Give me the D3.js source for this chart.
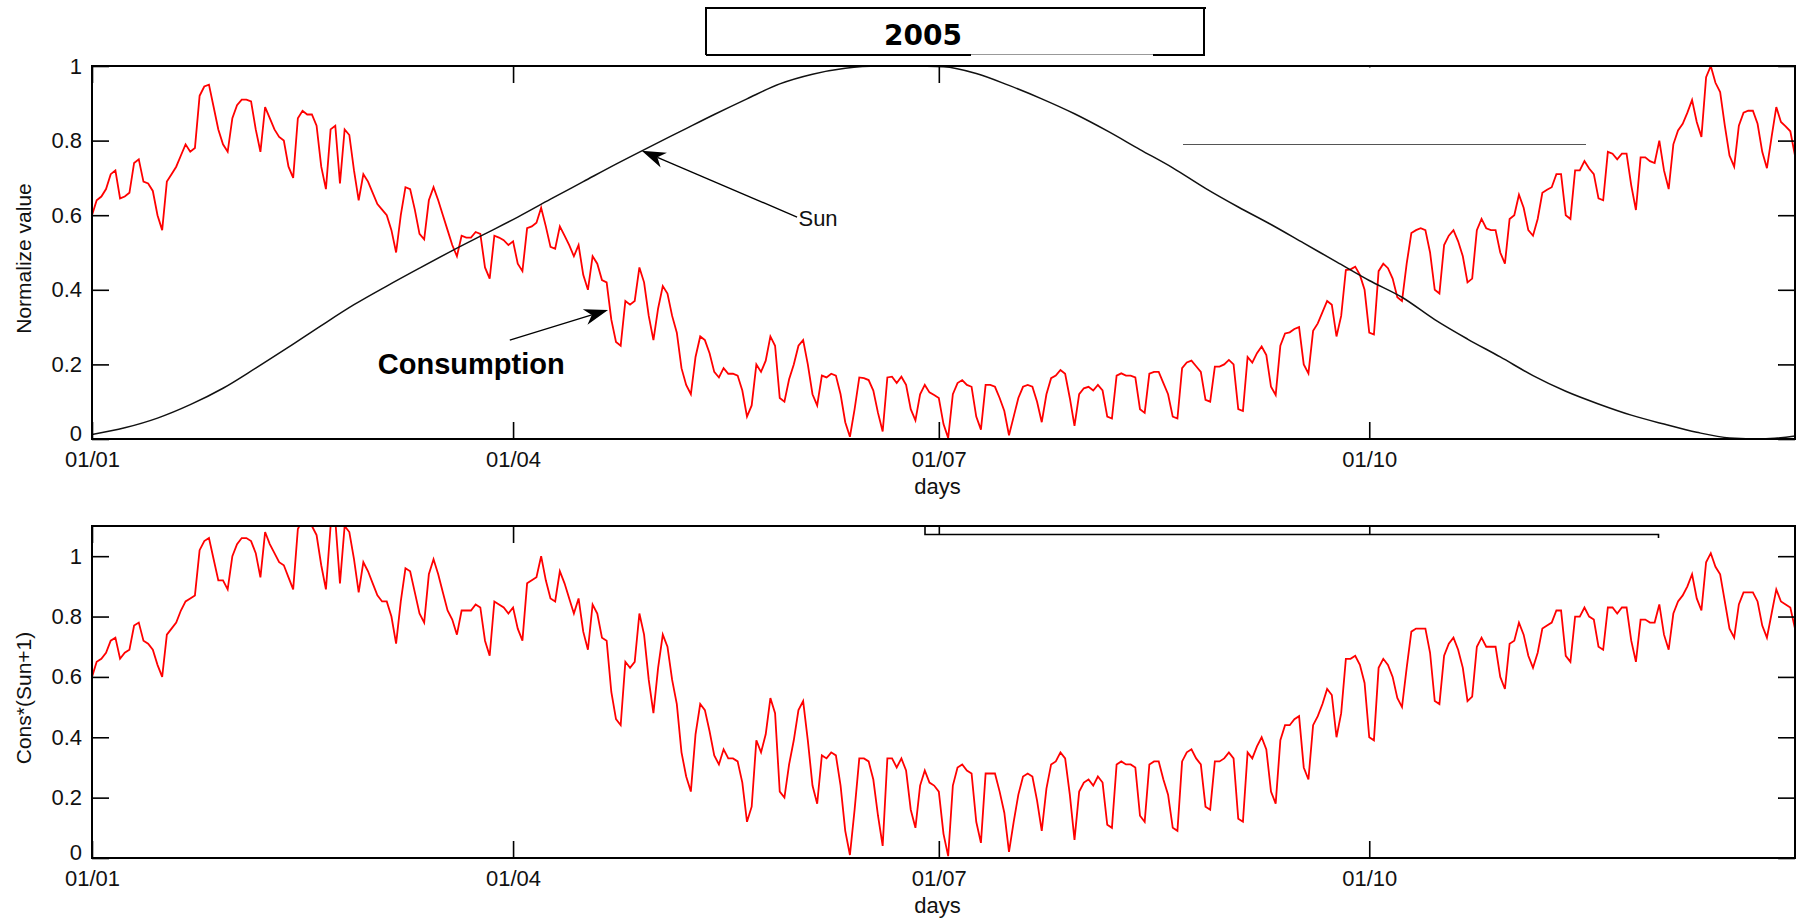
<!DOCTYPE html>
<html><head><meta charset="utf-8">
<script src="https://cdn.jsdelivr.net/npm/d3@7"></script>
<style>
html,body{margin:0;padding:0;background:#fff;}
svg{display:block;}
</style></head><body>
<svg id="chart" width="1806" height="920"></svg>
<script>
// ---------------- data ----------------
const titleText = "2005";
const xTickDays = [0, 90, 181, 273];
const xTickLabels = ["01/01", "01/04", "01/07", "01/10"];
const yTicksTop = [0, 0.2, 0.4, 0.6, 0.8, 1];
const yTickLabelsTop = ["0", "0.2", "0.4", "0.6", "0.8", "1"];
const yTicksBottom = [0, 0.2, 0.4, 0.6, 0.8, 1];
const yTickLabelsBottom = ["0", "0.2", "0.4", "0.6", "0.8", "1"];

// daily normalized consumption, 01/01 .. 31/12 (one row per week)
const consumption = [
  0.60, 0.64, 0.65, 0.67, 0.71, 0.72, 0.645,
  0.65, 0.66, 0.74, 0.75, 0.69, 0.685, 0.665,
  0.60, 0.56, 0.69, 0.71, 0.73, 0.76, 0.79,
  0.77, 0.78, 0.92, 0.945, 0.95, 0.89, 0.83,
  0.79, 0.77, 0.86, 0.895, 0.91, 0.91, 0.905,
  0.83, 0.77, 0.89, 0.86, 0.83, 0.81, 0.80,
  0.73, 0.70, 0.86, 0.88, 0.87, 0.87, 0.84,
  0.73, 0.67, 0.83, 0.84, 0.685, 0.83, 0.815,
  0.72, 0.64, 0.71, 0.69, 0.66, 0.63, 0.615,
  0.60, 0.56, 0.50, 0.60, 0.675, 0.67, 0.615,
  0.55, 0.535, 0.64, 0.675, 0.64, 0.60, 0.56,
  0.52, 0.49, 0.545, 0.54, 0.54, 0.555, 0.55,
  0.46, 0.43, 0.545, 0.54, 0.533, 0.52, 0.53,
  0.47, 0.45, 0.565, 0.57, 0.58, 0.62, 0.57,
  0.515, 0.51, 0.57, 0.545, 0.52, 0.49, 0.52,
  0.44, 0.40, 0.49, 0.47, 0.426, 0.42, 0.32,
  0.26, 0.25, 0.37, 0.36, 0.37, 0.46, 0.42,
  0.33, 0.265, 0.35, 0.41, 0.39, 0.33, 0.285,
  0.19, 0.145, 0.12, 0.22, 0.275, 0.265, 0.23,
  0.18, 0.165, 0.19, 0.175, 0.175, 0.17, 0.13,
  0.06, 0.09, 0.20, 0.18, 0.21, 0.275, 0.25,
  0.11, 0.10, 0.16, 0.20, 0.25, 0.265, 0.20,
  0.12, 0.09, 0.17, 0.165, 0.175, 0.17, 0.12,
  0.045, 0.006, 0.08, 0.165, 0.163, 0.158, 0.13,
  0.07, 0.02, 0.165, 0.167, 0.15, 0.167, 0.145,
  0.08, 0.05, 0.12, 0.145, 0.125, 0.118, 0.11,
  0.04, 0.003, 0.12, 0.15, 0.158, 0.145, 0.14,
  0.06, 0.025, 0.145, 0.145, 0.14, 0.11, 0.075,
  0.01, 0.06, 0.11, 0.14, 0.145, 0.14, 0.10,
  0.045, 0.12, 0.163, 0.17, 0.185, 0.175, 0.11,
  0.035, 0.12, 0.136, 0.14, 0.13, 0.145, 0.13,
  0.06, 0.055, 0.17, 0.176, 0.17, 0.17, 0.165,
  0.08, 0.07, 0.175, 0.18, 0.18, 0.15, 0.12,
  0.06, 0.055, 0.19, 0.205, 0.21, 0.195, 0.18,
  0.105, 0.10, 0.194, 0.194, 0.20, 0.212, 0.20,
  0.08, 0.075, 0.22, 0.205, 0.23, 0.248, 0.225,
  0.14, 0.118, 0.25, 0.283, 0.286, 0.295, 0.30,
  0.20, 0.176, 0.29, 0.31, 0.34, 0.37, 0.36,
  0.275, 0.33, 0.453, 0.455, 0.462, 0.44, 0.40,
  0.285, 0.28, 0.45, 0.47, 0.458, 0.43, 0.38,
  0.37, 0.47, 0.552, 0.56, 0.565, 0.56, 0.50,
  0.40, 0.39, 0.52, 0.545, 0.56, 0.53, 0.49,
  0.42, 0.43, 0.56, 0.59, 0.565, 0.56, 0.56,
  0.50, 0.47, 0.59, 0.60, 0.655, 0.62, 0.56,
  0.545, 0.59, 0.66, 0.668, 0.675, 0.71, 0.71,
  0.60, 0.59, 0.72, 0.72, 0.745, 0.725, 0.71,
  0.645, 0.64, 0.77, 0.765, 0.75, 0.765, 0.765,
  0.68, 0.614, 0.755, 0.755, 0.745, 0.74, 0.80,
  0.72, 0.67, 0.79, 0.827, 0.845, 0.875, 0.909,
  0.85, 0.81, 0.97, 1.0, 0.955, 0.93, 0.84,
  0.76, 0.73, 0.84, 0.875, 0.88, 0.88, 0.845,
  0.77, 0.726, 0.81, 0.89, 0.85, 0.838, 0.825,
  0.76
];

// normalized sun curve, read every 7 days
const sunDays = [0,7,14,21,28,35,42,49,56,63,70,77,84,91,98,105,112,119,126,133,140,147,154,161,168,175,182,189,196,203,210,217,224,231,238,245,252,259,266,273,280,287,294,301,308,315,322,329,336,343,350,357,364];
const sunValues = [0.012,0.03,0.056,0.092,0.136,0.19,0.246,0.304,0.36,0.41,0.458,0.505,0.55,0.595,0.643,0.69,0.737,0.782,0.826,0.87,0.912,0.952,0.978,0.994,1.0,1.0,0.998,0.98,0.948,0.912,0.872,0.826,0.776,0.727,0.672,0.622,0.575,0.525,0.475,0.425,0.38,0.32,0.268,0.22,0.17,0.128,0.094,0.064,0.04,0.018,0.003,0.0,0.008];

// daily Cons*(Sun+1), lower panel (one row per week)
const consSun = [
  0.60, 0.65, 0.66, 0.68, 0.72, 0.73, 0.66,
  0.68, 0.69, 0.77, 0.78, 0.72, 0.71, 0.69,
  0.64, 0.60, 0.74, 0.76, 0.78, 0.82, 0.85,
  0.86, 0.87, 1.02, 1.05, 1.06, 0.99, 0.92,
  0.92, 0.89, 1.00, 1.04, 1.06, 1.06, 1.05,
  1.01, 0.93, 1.08, 1.04, 1.01, 0.98, 0.97,
  0.93, 0.89, 1.09, 1.12, 1.10, 1.10, 1.07,
  0.97, 0.89, 1.10, 1.12, 0.91, 1.10, 1.08,
  0.99, 0.88, 0.98, 0.95, 0.91, 0.87, 0.85,
  0.85, 0.80, 0.71, 0.85, 0.96, 0.95, 0.88,
  0.81, 0.78, 0.94, 0.99, 0.94, 0.88, 0.82,
  0.79, 0.74, 0.82, 0.82, 0.82, 0.84, 0.83,
  0.72, 0.67, 0.85, 0.84, 0.83, 0.81, 0.83,
  0.76, 0.72, 0.91, 0.92, 0.93, 1.00, 0.92,
  0.86, 0.85, 0.95, 0.91, 0.86, 0.81, 0.86,
  0.75, 0.69, 0.84, 0.81, 0.73, 0.72, 0.55,
  0.46, 0.44, 0.65, 0.63, 0.65, 0.81, 0.74,
  0.59, 0.48, 0.63, 0.74, 0.70, 0.59, 0.51,
  0.35, 0.27, 0.22, 0.41, 0.51, 0.49, 0.42,
  0.34, 0.31, 0.36, 0.33, 0.33, 0.32, 0.25,
  0.12, 0.17, 0.39, 0.35, 0.41, 0.53, 0.48,
  0.22, 0.20, 0.31, 0.39, 0.49, 0.52, 0.39,
  0.24, 0.18, 0.34, 0.33, 0.35, 0.34, 0.24,
  0.09, 0.01, 0.16, 0.33, 0.33, 0.32, 0.26,
  0.14, 0.04, 0.33, 0.33, 0.30, 0.33, 0.29,
  0.16, 0.10, 0.24, 0.29, 0.25, 0.24, 0.22,
  0.08, 0.006, 0.24, 0.30, 0.31, 0.29, 0.28,
  0.12, 0.05, 0.28, 0.28, 0.28, 0.22, 0.15,
  0.02, 0.12, 0.21, 0.27, 0.28, 0.27, 0.19,
  0.09, 0.23, 0.31, 0.32, 0.35, 0.33, 0.21,
  0.06, 0.22, 0.25, 0.26, 0.24, 0.27, 0.25,
  0.11, 0.10, 0.31, 0.32, 0.31, 0.31, 0.30,
  0.14, 0.12, 0.31, 0.32, 0.32, 0.26, 0.21,
  0.10, 0.09, 0.32, 0.35, 0.36, 0.33, 0.31,
  0.17, 0.16, 0.32, 0.32, 0.33, 0.35, 0.33,
  0.13, 0.12, 0.35, 0.33, 0.37, 0.40, 0.36,
  0.22, 0.18, 0.39, 0.44, 0.44, 0.46, 0.47,
  0.30, 0.26, 0.44, 0.47, 0.51, 0.56, 0.54,
  0.40, 0.48, 0.66, 0.66, 0.67, 0.64, 0.58,
  0.40, 0.39, 0.63, 0.66, 0.64, 0.60, 0.53,
  0.50, 0.63, 0.75, 0.76, 0.76, 0.76, 0.68,
  0.52, 0.51, 0.67, 0.71, 0.73, 0.69, 0.63,
  0.52, 0.535, 0.70, 0.73, 0.70, 0.70, 0.70,
  0.60, 0.56, 0.71, 0.72, 0.78, 0.74, 0.67,
  0.63, 0.68, 0.76, 0.77, 0.78, 0.82, 0.82,
  0.67, 0.65, 0.80, 0.80, 0.83, 0.80, 0.79,
  0.70, 0.69, 0.83, 0.83, 0.81, 0.83, 0.83,
  0.72, 0.65, 0.79, 0.79, 0.78, 0.78, 0.84,
  0.74, 0.69, 0.81, 0.85, 0.87, 0.90, 0.94,
  0.86, 0.82, 0.98, 1.01, 0.965, 0.94, 0.85,
  0.76, 0.73, 0.84, 0.88, 0.88, 0.88, 0.85,
  0.77, 0.73, 0.81, 0.89, 0.85, 0.84, 0.83,
  0.76
];

// annotations (data coordinates: day, value)
const sunLabel = {text: "Sun", day: 151.0, v: 0.571};
const sunArrow = {tail: [150.7, 0.595], tip: [117.5, 0.773]};
const consLabel = {text: "Consumption", day: 61.1, v: 0.174};
const consArrow = {tail: [89.3, 0.265], tip: [110.3, 0.346]};

// ---------------- drawing ----------------
const FONT = '"Liberation Sans", Arial, Helvetica, sans-serif';
const svg = d3.select("#chart");
const X0 = 92, X1 = 1795;
const x = d3.scaleLinear().domain([0, 364]).range([X0, X1]);

const P1 = {top: 66, bottom: 439};
const P2 = {top: 526, bottom: 858};
const yTop = d3.scaleLinear().domain([0, 1]).range([P1.bottom, P1.top]);
const yBot = d3.scaleLinear().domain([0, 1.1]).range([P2.bottom, P2.top]);

const defs = svg.append("defs");
function clip(id, P) {
  defs.append("clipPath").attr("id", id).append("rect")
    .attr("x", X0).attr("y", P.top - 1).attr("width", X1 - X0).attr("height", P.bottom - P.top + 2);
}
clip("c1", P1); clip("c2", P2);

function styleAxis(s) {
  s.select(".domain").remove();
  s.attr("font-size", 22).attr("font-family", FONT);
  s.selectAll(".tick line").attr("stroke", "#000").attr("stroke-width", 1.6);
  s.selectAll(".tick text").attr("fill", "#111");
}

function drawAxes(P, y, yTicks, yLabels, topTickLen) {
  const g = svg.append("g");
  g.append("g").attr("transform", `translate(0,${P.bottom})`)
    .call(d3.axisBottom(x).tickValues(xTickDays).tickFormat((d, i) => xTickLabels[i]).tickSize(-17).tickPadding(12))
    .call(styleAxis);
  g.append("g").attr("transform", `translate(0,${P.top})`)
    .call(d3.axisTop(x).tickValues(xTickDays).tickFormat(() => "").tickSize(-17))
    .call(styleAxis)
    .selectAll(".tick line").attr("y2", d => topTickLen(d));
  g.append("g").attr("transform", `translate(${X0},0)`)
    .call(d3.axisLeft(y).tickValues(yTicks).tickFormat((d, i) => yLabels[i]).tickSize(-17).tickPadding(10))
    .call(styleAxis)
    .selectAll(".tick text").filter(d => d === 0).attr("dy", "0.08em");
  g.append("g").attr("transform", `translate(${X1},0)`)
    .call(d3.axisRight(y).tickValues(yTicks).tickFormat(() => "").tickSize(-17))
    .call(styleAxis);
  svg.append("rect").attr("x", X0).attr("y", P.top).attr("width", X1 - X0).attr("height", P.bottom - P.top)
    .attr("fill", "none").attr("stroke", "#000").attr("stroke-width", 2);
}

// ---- top panel ----
const gTop = svg.append("g").attr("clip-path", "url(#c1)");
gTop.append("path").datum(consumption)
  .attr("d", d3.line().x((d, i) => x(i)).y(d => yTop(d)))
  .attr("fill", "none").attr("stroke", "#ff0000").attr("stroke-width", 1.8);
gTop.append("path").datum(sunValues)
  .attr("d", d3.line().x((d, i) => x(sunDays[i])).y(d => yTop(d)).curve(d3.curveMonotoneX))
  .attr("fill", "none").attr("stroke", "#111").attr("stroke-width", 1.5);
drawAxes(P1, yTop, yTicksTop, yTickLabelsTop, () => 17);

// leftover legend box (white) hiding part of the top border ticks
svg.append("rect").attr("x", 1183).attr("y", P1.top + 1.5).attr("width", 403).attr("height", 144 - P1.top - 1.5).attr("fill", "#fff");
svg.append("line").attr("x1", 1183).attr("x2", 1586).attr("y1", 144.5).attr("y2", 144.5)
  .attr("stroke", "#555").attr("stroke-width", 1);

// ---- bottom panel ----
const gBot = svg.append("g").attr("clip-path", "url(#c2)");
gBot.append("path").datum(consSun)
  .attr("d", d3.line().x((d, i) => x(i)).y(d => yBot(d)))
  .attr("fill", "none").attr("stroke", "#ff0000").attr("stroke-width", 1.8);
drawAxes(P2, yBot, yTicksBottom, yTickLabelsBottom, d => (d >= 181 ? 8 : 17));
// leftover legend bracket under the top border
svg.append("path").attr("d", `M925,${P2.top}V534.5H1658.5V538`)
  .attr("fill", "none").attr("stroke", "#000").attr("stroke-width", 1.6);

// ---- axis titles ----
function txt(t, xx, yy, opts = {}) {
  const e = svg.append("text").attr("x", xx).attr("y", yy).text(t)
    .attr("font-family", opts.family || FONT).attr("font-size", opts.size || 22)
    .attr("fill", opts.fill || "#111").attr("text-anchor", opts.anchor || "middle");
  if (opts.weight) e.attr("font-weight", opts.weight);
  if (opts.rotate) e.attr("transform", `rotate(-90,${xx},${yy})`).attr("dominant-baseline", "central");
  return e;
}
txt("days", (X0 + X1) / 2 - 6, 494);
txt("days", (X0 + X1) / 2 - 6, 913);
txt("Normalize value", 23, (P1.top + P1.bottom) / 2 + 6, {rotate: true, size: 21});
txt("Cons*(Sun+1)", 23, (P2.top + P2.bottom) / 2 + 6, {rotate: true, size: 21});

// ---- title box ----
const tb = svg.append("g").attr("fill", "none");
tb.append("path").attr("d", "M706,55V8H1206M1204,8V55").attr("stroke", "#000").attr("stroke-width", 2);
tb.append("path").attr("d", "M706,55H971M1153,55H1205").attr("stroke", "#000").attr("stroke-width", 2);
tb.append("path").attr("d", "M971,54.5H1153").attr("stroke", "#999").attr("stroke-width", 1);
txt(titleText, 923, 45, {size: 28, weight: "bold", family: '"DejaVu Sans", Verdana, sans-serif', fill: "#000"});

// ---- annotations ----
function arrow(a) {
  const t = [x(a.tail[0]), yTop(a.tail[1])], p = [x(a.tip[0]), yTop(a.tip[1])];
  const dx = t[0] - p[0], dy = t[1] - p[1], L = Math.hypot(dx, dy);
  const ux = dx / L, uy = dy / L, px = -uy, py = ux;
  const hl = 24, hw = 8, notch = 17;
  svg.append("line").attr("x1", t[0]).attr("y1", t[1]).attr("x2", p[0] + ux * notch).attr("y2", p[1] + uy * notch)
    .attr("stroke", "#000").attr("stroke-width", 1.3);
  svg.append("path").attr("fill", "#000").attr("d",
    `M${p[0]},${p[1]}L${p[0] + ux * hl + px * hw},${p[1] + uy * hl + py * hw}` +
    `L${p[0] + ux * notch},${p[1] + uy * notch}L${p[0] + ux * hl - px * hw},${p[1] + uy * hl - py * hw}Z`);
}
arrow(sunArrow);
arrow(consArrow);
txt(sunLabel.text, x(sunLabel.day), yTop(sunLabel.v), {anchor: "start", size: 22});
txt(consLabel.text, x(consLabel.day), yTop(consLabel.v), {anchor: "start", size: 29, weight: "bold", fill: "#000"});
</script>
</body></html>
